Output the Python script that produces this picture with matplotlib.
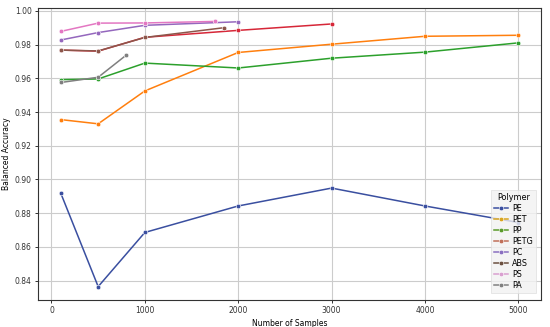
import matplotlib
matplotlib.use("Agg")
import matplotlib.pyplot as plt
from matplotlib.lines import Line2D

polymers = ["PE", "PET", "PP", "PETG", "PC", "ABS", "PS", "PA"]

pe_x = [100, 500, 1000, 2000, 3000, 4000, 5000]
pe_y = [0.8918, 0.8365, 0.8686, 0.8843, 0.8949, 0.8843, 0.8745]
pet_x = [100, 500, 1000, 2000, 3000, 4000, 5000]
pet_y = [0.9355, 0.9330, 0.9525, 0.9753, 0.9802, 0.9849, 0.9855]
pp_x = [100, 500, 1000, 2000, 3000, 4000, 5000]
pp_y = [0.9592, 0.9596, 0.9690, 0.9661, 0.9719, 0.9755, 0.9810]
petg_x = [100, 500, 1000, 2000, 3000]
petg_y = [0.9767, 0.9761, 0.9843, 0.9884, 0.9922]
pc_x = [100, 500, 1000, 2000]
pc_y = [0.9827, 0.9871, 0.9914, 0.9935]
abs_x = [100, 500, 1000, 1850]
abs_y = [0.9767, 0.9762, 0.9842, 0.9900]
ps_x = [100, 500, 1000, 1750]
ps_y = [0.9878, 0.9927, 0.9928, 0.9937]
pa_x = [100, 500, 800]
pa_y = [0.9575, 0.9606, 0.9737]

series = [(pe_x, pe_y), (pet_x, pet_y), (pp_x, pp_y), (petg_x, petg_y),
          (pc_x, pc_y), (abs_x, abs_y), (ps_x, ps_y), (pa_x, pa_y)]

line_colors = ["#3a4fa0", "#ff7f0e", "#2ca02c", "#d62738", "#9467bd", "#8c564b", "#e377c2", "#7f7f7f"]
legend_colors = ["#3a4fa0", "#d9a520", "#5a9a2a", "#c0705a", "#8a6fc0", "#6b5040", "#d9a0d0", "#808080"]

fs = 5.5
fig, ax = plt.subplots(figsize=(5.5, 3.27), dpi=100)
fig.subplots_adjust(left=0.069, right=0.984, top=0.975, bottom=0.083)

for (x, y), c in zip(series, line_colors):
    ax.plot(x, y, color=c, lw=1.1, marker="o", markersize=3.3,
            markeredgecolor="white", markeredgewidth=0.4)

ax.margins(x=0.05, y=0.05)
yt = [0.84, 0.86, 0.88, 0.90, 0.92, 0.94, 0.96, 0.98, 1.00]
ax.set_xticks([0, 1000, 2000, 3000, 4000, 5000])
ax.set_yticks(yt)
ax.set_yticklabels([f"{v:.2f}" for v in yt])
ax.grid(True, color="#cccccc", lw=0.8)
ax.set_axisbelow(True)
ax.tick_params(labelsize=fs, length=2.5, width=0.7, pad=2, colors="#333333")
for s in ax.spines.values():
    s.set_color("#333333")
    s.set_linewidth(0.8)
ax.set_xlabel("Number of Samples", fontsize=fs, labelpad=2.5)
ax.set_ylabel("Balanced Accuracy", fontsize=fs, labelpad=3)

handles = [Line2D([0], [0], color=c, lw=1.1, marker="o", markersize=3.3,
                  markeredgecolor="white", markeredgewidth=0.4) for c in legend_colors]
leg = ax.legend(handles, polymers, title="Polymer", loc="lower right", fontsize=5.8,
                title_fontsize=5.8, frameon=True, fancybox=False, borderpad=0.35,
                labelspacing=0.25, handlelength=1.8, handletextpad=0.5,
                bbox_to_anchor=(0.997, 0.01))
leg.get_frame().set_facecolor("#f2f2f2")
leg.get_frame().set_edgecolor("#dddddd")
leg.get_frame().set_linewidth(0.6)

fig.savefig("out.png", dpi=100)
